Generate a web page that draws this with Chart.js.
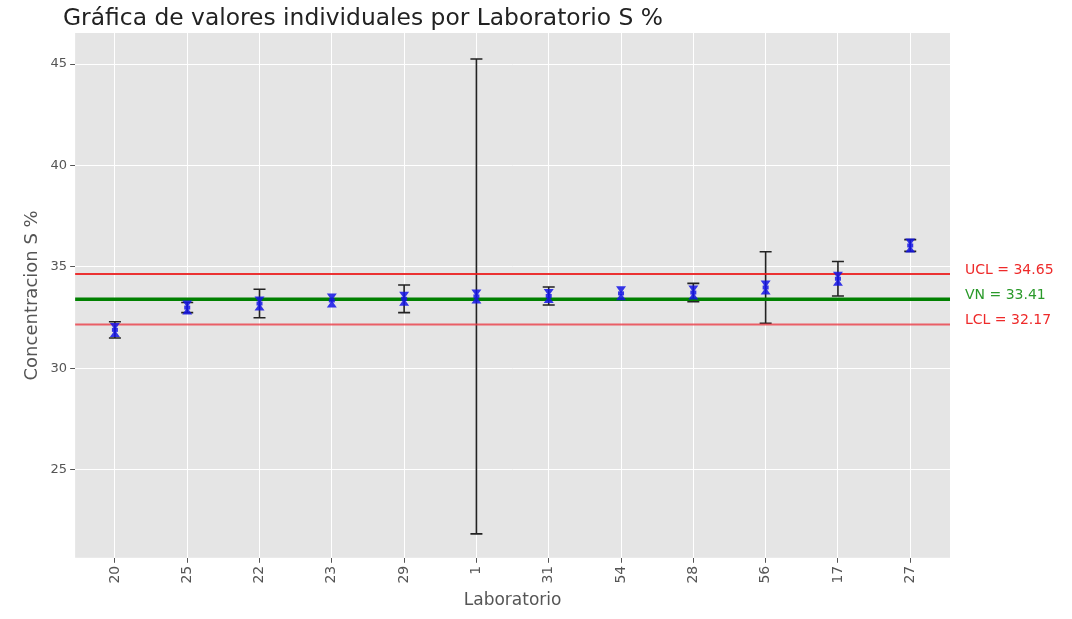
<!DOCTYPE html>
<html>
<head>
<meta charset="utf-8">
<title>Valores individuales por Laboratorio</title>
<script src="https://cdn.jsdelivr.net/npm/chart.js"></script>
<style>
  html, body { margin: 0; padding: 0; background: #ffffff; }
  #wrap { width: 1072px; height: 619px; position: relative; }
</style>
</head>
<body>
<div id="wrap"><canvas id="labChart"></canvas></div>
<script>
// data
const labs = ['20', '25', '22', '23', '29', '1', '31', '54', '28', '56', '17', '27'];
const means = [31.9, 33.0, 33.2, 33.35, 33.43, 33.55, 33.57, 33.7, 33.74, 33.99, 34.42, 36.06];
const errs = [0.4, 0.25, 0.7, 0.04, 0.68, 11.7, 0.44, 0.04, 0.45, 1.76, 0.85, 0.29];
const yTicks = [25, 30, 35, 40, 45];
const ucl = 34.65;
const vn = 33.41;
const lcl = 32.17;

const titleText = 'Gráfica de valores individuales por Laboratorio S %';
const font = 'DejaVu Sans';

// BEGIN plugins
// grey panel like ggplot style
const panelBg = {
	id: 'panelBg',
	beforeDraw(chart){
		let ctx = chart.ctx, a = chart.chartArea;
		ctx.save();
		ctx.fillStyle = '#E5E5E5';
		ctx.fillRect(a.left, a.top, a.right - a.left, a.bottom - a.top);
		ctx.restore();
	}
};

// error bars + control lines + their labels
const controlLines = {
	id: 'controlLines',
	afterDatasetsDraw(chart){
		let ctx = chart.ctx, a = chart.chartArea;
		let xs = chart.scales.x, ys = chart.scales.y;

		ctx.save();
		// error bars
		ctx.strokeStyle = '#222222';
		ctx.lineWidth = 1.6;
		means.forEach(function(m, i){
			if (errs[i] < 0.1) {return}
			let px = xs.getPixelForValue(i);
			let top = ys.getPixelForValue(m + errs[i]);
			let bot = ys.getPixelForValue(m - errs[i]);
			ctx.beginPath();
			ctx.moveTo(px, top); ctx.lineTo(px, bot);
			ctx.moveTo(px - 6, top); ctx.lineTo(px + 6, top);
			ctx.moveTo(px - 6, bot); ctx.lineTo(px + 6, bot);
			ctx.stroke();
		});

		// horizontal limits
		let lines = [
			{v: ucl, color: 'rgba(235,30,30,0.9)', w: 2, label: 'UCL = ' + ucl.toFixed(2), tc: '#ee2a2a'},
			{v: vn, color: '#008000', w: 3.5, label: 'VN = ' + vn.toFixed(2), tc: '#2a9a2a'},
			{v: lcl, color: 'rgba(235,60,70,0.8)', w: 2, label: 'LCL = ' + lcl.toFixed(2), tc: '#ee2a2a'}
		];
		ctx.font = '14px "' + font + '"';
		ctx.textBaseline = 'middle';
		lines.forEach(function(l){
			let py = ys.getPixelForValue(l.v);
			ctx.strokeStyle = l.color;
			ctx.lineWidth = l.w;
			ctx.beginPath();
			ctx.moveTo(a.left, py); ctx.lineTo(a.right, py);
			ctx.stroke();
			ctx.fillStyle = l.tc;
			ctx.fillText(l.label, a.right + 15, py - 4);
		});

		// markers on top of the bars
		ctx.fillStyle = 'rgba(20,20,230,0.85)';
		means.forEach(function(m, i){
			let px = xs.getPixelForValue(i);
			let py = ys.getPixelForValue(m);
			ctx.beginPath();
			ctx.moveTo(px - 5, py - 7); ctx.lineTo(px + 5, py - 7);
			ctx.lineTo(px - 5, py + 7); ctx.lineTo(px + 5, py + 7);
			ctx.closePath();
			ctx.fill();
			ctx.fillRect(px - 3, py - 2, 6, 4);
		});
		ctx.restore();
	}
};

const titlePlugin = {
	id: 'leftTitle',
	afterDraw(chart){
		let ctx = chart.ctx;
		ctx.save();
		ctx.font = '23px "' + font + '"';
		ctx.fillStyle = '#222222';
		ctx.textBaseline = 'alphabetic';
		// fit to the width seen in the reference
		let w = ctx.measureText(titleText).width;
		ctx.translate(63, 25);
		ctx.scale(600 / w, 1);
		ctx.fillText(titleText, 0, 0);
		ctx.restore();
	}
};
// END plugins

// BEGIN chart
function drawLabChart(){
	let canvas = document.getElementById('labChart');
	let points = means.map(function(m, i){ return {x: i, y: m} });

	new Chart(canvas, {
		type: 'scatter',
		data: {
			datasets: [{
				label: 'Media',
				data: points,
				pointRadius: 0,
				backgroundColor: 'rgba(20,20,230,0.85)',
				borderWidth: 0
			}]
		},
		options: {
			responsive: true,
			maintainAspectRatio: false,
			animation: false,
			layout: {padding: {left: 22, right: 122, top: 33, bottom: 8}},
			plugins: {
				legend: {display: false},
				tooltip: {enabled: false},
				title: {display: false}
			},
			scales: {
				x: {
					type: 'linear',
					min: -0.55,
					max: 11.55,
					afterBuildTicks: function(axis){
						axis.ticks = labs.map(function(l, i){ return {value: i} });
					},
					ticks: {
						autoSkip: false,
						minRotation: 90,
						maxRotation: 90,
						padding: 3,
						color: '#555555',
						font: {family: font, size: 14},
						callback: function(v){ return labs[v] }
					},
					grid: {color: '#ffffff', lineWidth: 1, tickColor: '#555555', tickLength: 5},
					border: {display: false},
					title: {display: true, text: 'Laboratorio', color: '#555555', font: {family: font, size: 17}, padding: {top: 4, bottom: 0}}
				},
				y: {
					min: 20.67,
					max: 46.53,
					afterBuildTicks: function(axis){
						axis.ticks = yTicks.map(function(v){ return {value: v} });
					},
					ticks: {color: '#555555', font: {family: font, size: 13}},
					grid: {color: '#ffffff', lineWidth: 1, tickColor: '#555555', tickLength: 5},
					border: {display: false},
					title: {display: true, text: 'Concentracion S %', color: '#555555', font: {family: font, size: 18}, padding: {top: 0, bottom: 4}}
				}
			}
		},
		plugins: [panelBg, controlLines, titlePlugin]
	});
}
// END chart

drawLabChart();
</script>
</body>
</html>
